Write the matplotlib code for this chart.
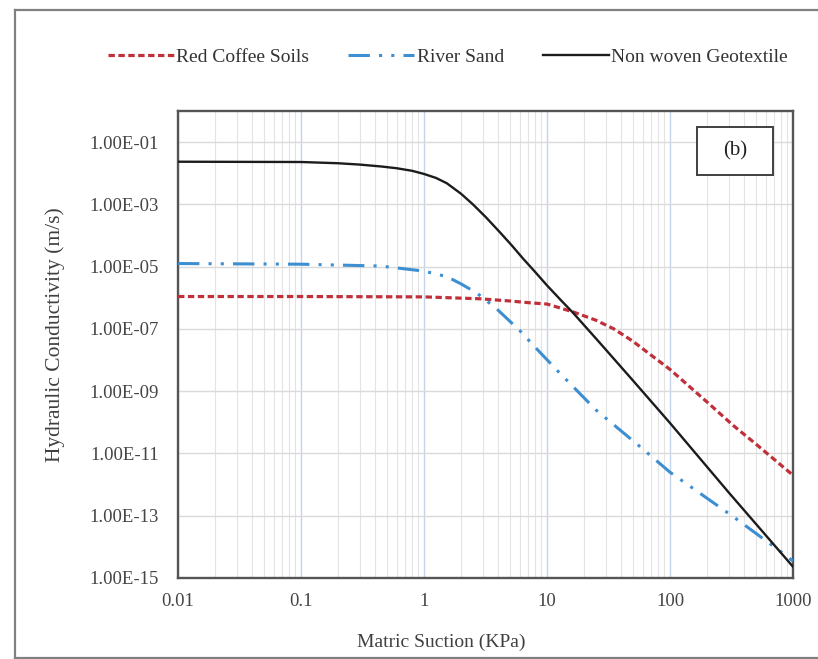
import matplotlib
matplotlib.use("Agg")
import matplotlib.pyplot as plt
from matplotlib.lines import Line2D
from matplotlib.patches import Rectangle
from matplotlib.ticker import FixedLocator, NullFormatter, LogLocator

plt.rcParams['font.family'] = ['Liberation Serif', 'DejaVu Serif']

# ---- data ----
series_names = ["Red Coffee Soils", "River Sand", "Non woven Geotextile"]

red_x = [0.01, 0.1, 1, 2.85, 5, 7.3, 10, 16.4, 25, 35, 50, 64, 100, 200, 327, 500, 1000]
red_y = [1.1e-6, 1.1e-6, 1.07e-6, 9.3e-7, 7.9e-7, 6.9e-7, 6.3e-7, 3.5e-7, 1.9e-7,
         1.0e-7, 4.0e-8, 1.9e-8, 5.0e-9, 4.5e-10, 7.9e-11, 2.0e-11, 2.0e-12]

blue_x = [0.01, 0.1, 0.44, 1, 1.53, 2.0, 2.7, 3.9, 6.0, 8.0, 12, 25, 57, 100, 327, 830, 1000]
blue_y = [1.26e-5, 1.2e-5, 1.05e-5, 7.2e-6, 4.8e-6, 2.8e-6, 1.4e-6, 4.4e-7, 8.9e-8,
          2.6e-8, 4.8e-9, 2.5e-10, 1.66e-11, 2.5e-12, 9.3e-14, 6.2e-15, 3.5e-15]

black_x = [0.01, 0.1, 0.2, 0.3, 0.45, 0.6, 0.8, 1.0, 1.25, 1.53, 2.0, 2.5, 3.2, 4.15,
           5.2, 6.4, 8, 10, 13, 16.4, 27, 50, 100, 300, 1000]
black_y = [2.35e-2, 2.3e-2, 2.1e-2, 1.9e-2, 1.65e-2, 1.45e-2, 1.2e-2, 9.5e-3, 7.1e-3,
           4.8e-3, 2.2e-3, 1.0e-3, 3.8e-4, 1.26e-4, 4.7e-5, 1.8e-5, 6.8e-6, 2.5e-6,
           8.3e-7, 3.2e-7, 3.5e-8, 2.2e-9, 9.5e-11, 5.6e-13, 2.3e-15]

x_ticks = [0.01, 0.1, 1, 10, 100, 1000]
x_tick_labels = ["0.01", "0.1", "1", "10", "100", "1000"]
y_ticks = [1e-1, 1e-3, 1e-5, 1e-7, 1e-9, 1e-11, 1e-13, 1e-15]
y_tick_labels = ["1.00E-01", "1.00E-03", "1.00E-05", "1.00E-07",
                 "1.00E-09", "1.00E-11", "1.00E-13", "1.00E-15"]

# ---- figure ----
W, H = 818, 659
fig = plt.figure(figsize=(W / 100, H / 100), dpi=100)
ax = fig.add_axes([178 / W, 1 - 578 / H, (793 - 178) / W, (578 - 111) / H])

ax.set_xscale('log')
ax.set_yscale('log')
ax.set_xlim(0.01, 1000)
ax.set_ylim(1e-15, 1e0)

# grid lines
ax.xaxis.set_minor_locator(LogLocator(base=10, subs=range(2, 10)))
ax.xaxis.set_minor_formatter(NullFormatter())
ax.yaxis.set_minor_locator(FixedLocator([]))
ax.set_xticks(x_ticks)
ax.set_xticklabels(x_tick_labels)
ax.set_yticks(y_ticks)
ax.set_yticklabels(y_tick_labels)
ax.grid(which='minor', axis='x', color='#e3e3e3', lw=0.8)
ax.grid(which='major', axis='x', color='#c3d3ea', lw=1.0)
ax.grid(which='major', axis='y', color='#dadada', lw=1.0)
ax.set_axisbelow(True)

ax.tick_params(which='both', length=0)
ax.tick_params(axis='x', pad=11, labelsize=13.5, labelcolor='#454545')
ax.tick_params(axis='y', pad=13.5, labelsize=13.5, labelcolor='#454545')
for s in ax.spines.values():
    s.set_color('#555555')
    s.set_linewidth(1.7)

red_line, = ax.plot(red_x, red_y, color='#c0303a', lw=2.3, dashes=(2.0, 1.1),
                    label=series_names[0], zorder=3)
blue_line, = ax.plot(blue_x, blue_y, color='#3d8fd1', lw=2.2,
                     dashes=(7, 3, 1, 3, 1, 3), label=series_names[1], zorder=3)
black_line, = ax.plot(black_x, black_y, color='#1c1c1c', lw=1.7,
                      label=series_names[2], zorder=4)

# (b) box
ax.add_patch(Rectangle((0.844, 0.863), 0.1235, 0.103, transform=ax.transAxes,
                       facecolor='white', edgecolor='#404040', lw=1.4, zorder=5))
ax.text(0.906, 0.914, "(b)", transform=ax.transAxes, ha='center', va='center',
        fontsize=15, color='#222222', zorder=6)

# axis titles
fig.text(441 / W, 1 - 642 / H, "Matric Suction (KPa)", ha='center', va='center',
         fontsize=14, color='#404040')
fig.text(55 / W, 1 - 335 / H, "Hydraulic Conductivity (m/s)", ha='center', va='center',
         rotation=90, fontsize=15.5, color='#404040')

# legend
fig.legend(handles=[red_line, blue_line, black_line], loc='center',
           bbox_to_anchor=(448 / W, 1 - 57 / H), ncol=3, frameon=False,
           fontsize=14, handlelength=3.4, handletextpad=0.12, columnspacing=2.0,
           labelcolor='#333333')

# outer frame
frame_kw = dict(color='#808080', lw=1.6, transform=fig.transFigure)
fig.add_artist(Line2D([15 / W, 15 / W], [1 - 10 / H, 1 - 658 / H], **frame_kw))
fig.add_artist(Line2D([15 / W, 1.0], [1 - 10 / H, 1 - 10 / H], **frame_kw))
fig.add_artist(Line2D([15 / W, 1.0], [1 - 658 / H, 1 - 658 / H], **frame_kw))

fig.savefig("out.png", dpi=100)
